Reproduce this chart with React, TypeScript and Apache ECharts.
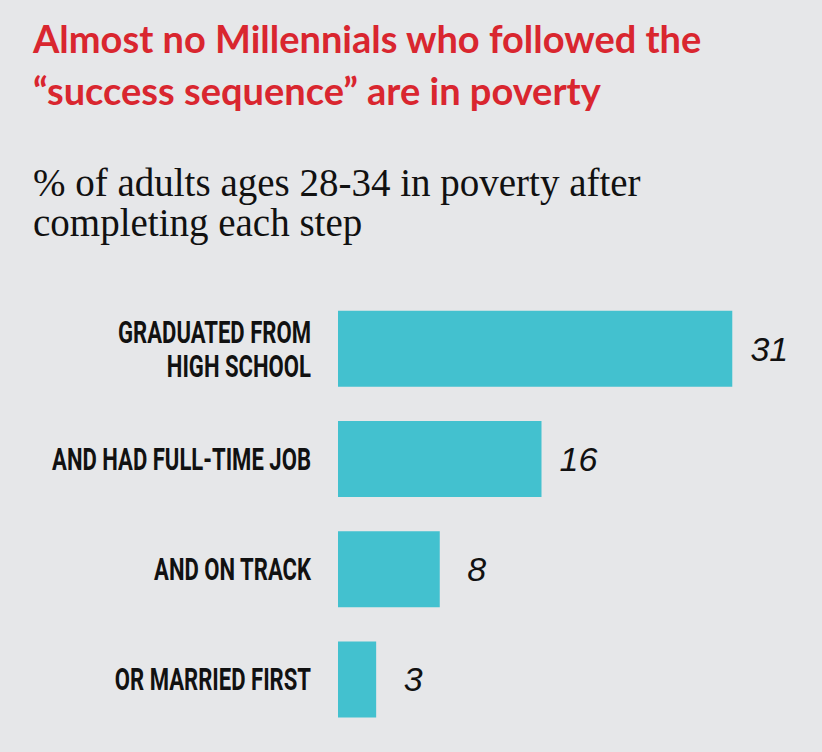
import React, { useEffect, useRef } from "react";
import * as echarts from "echarts";

const categories = [
  "GRADUATED FROM\nHIGH SCHOOL",
  "AND HAD FULL-TIME JOB",
  "AND ON TRACK",
  "OR MARRIED FIRST",
];
const values = [31, 16, 8, 3];

const titleText = "Almost no Millennials who followed the\n\u201Csuccess sequence\u201D are in poverty";
const subtitleText = "% of adults ages 28-34 in poverty after\ncompleting each step";

const BG = "#e6e7e9";
const RED = "#d9262f";
const BAR = "#43c1cf";

export default function App() {
  const ref = useRef<HTMLDivElement>(null);
  useEffect(() => {
    if (!ref.current) return;
    const chart = echarts.init(ref.current, undefined, { renderer: "svg" });
    chart.setOption({
      animation: false,
      backgroundColor: BG,
      title: [
        {
          text: titleText,
          left: 33,
          top: 12,
          padding: 0,
          textStyle: {
            color: RED,
            fontFamily: "Lato",
            fontWeight: "bold",
            fontSize: 38,
            lineHeight: 52,
          },
        },
        {
          text: subtitleText,
          left: 33,
          top: 162,
          padding: 0,
          textStyle: {
            color: "#111",
            fontFamily: "Liberation Serif",
            fontWeight: "normal",
            fontSize: 39,
            lineHeight: 40,
          },
        },
      ],
      grid: {
        left: 338,
        right: 77,
        top: 293.5,
        bottom: 17.5,
        containLabel: false,
        outerBoundsMode: "none",
      },
      xAxis: {
        type: "value",
        min: 0,
        max: 32,
        show: false,
      },
      yAxis: {
        type: "category",
        data: categories,
        inverse: true,
        axisLine: { show: false },
        axisTick: { show: false },
        splitLine: { show: false },
        axisLabel: { show: false },
      },
      series: [
        {
          type: "bar",
          data: values,
          barWidth: 76,
          itemStyle: { color: BAR },
          label: {
            show: true,
            position: "right",
            distance: 37,
            align: "center",
            color: "#111",
            fontFamily: "Liberation Sans",
            fontStyle: "italic",
            fontSize: 34,
          },
        },
        {
          type: "custom",
          name: "labels",
          data: categories.map((c) => [0, c]),
          encode: { x: 0, y: 1 },
          silent: true,
          clip: false,
          renderItem: (params: any, api: any) => {
            const p = api.coord([0, api.value(1)]);
            return {
              type: "text",
              x: p[0] - 27,
              y: p[1],
              scaleX: 0.69,
              style: {
                text: categories[params.dataIndex],
                align: "right",
                verticalAlign: "middle",
                fill: "#111",
                fontFamily: "Roboto",
                fontWeight: "bold",
                fontSize: 32,
                lineHeight: 34,
              },
            };
          },
        },
      ],
    });
    return () => chart.dispose();
  }, []);
  return (
    <div
      ref={ref}
      style={{ position: "fixed", left: 0, top: 0, width: 822, height: 752, background: BG }}
    />
  );
}
